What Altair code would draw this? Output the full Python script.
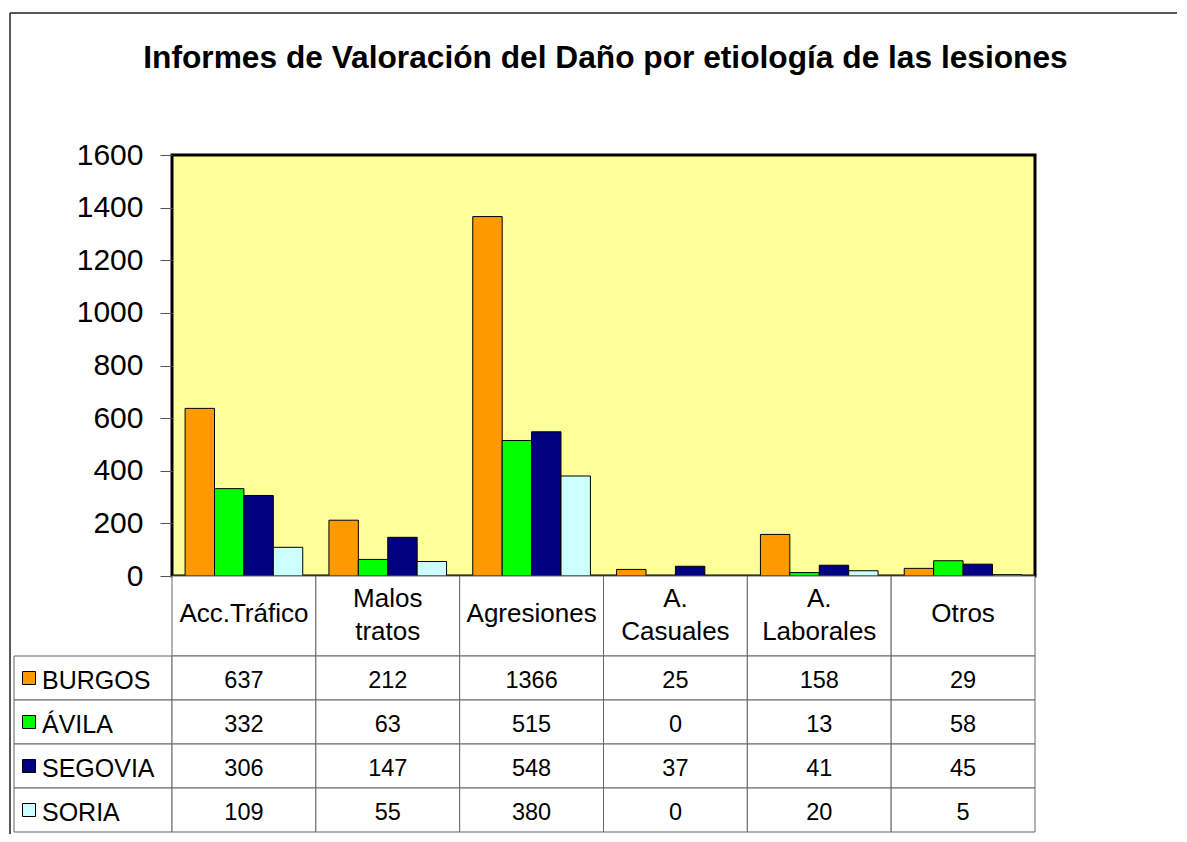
import altair as alt
import pandas as pd

# ---- data ----
categories = ["Acc.Tráfico", "Malos tratos", "Agresiones", "A. Casuales", "A. Laborales", "Otros"]
header_labels = ["Acc.Tráfico", "Malos\ntratos", "Agresiones", "A.\nCasuales", "A.\nLaborales", "Otros"]
series = ["BURGOS", "ÁVILA", "SEGOVIA", "SORIA"]
burgos = [637, 212, 1366, 25, 158, 29]
avila = [332, 63, 515, 0, 13, 58]
segovia = [306, 147, 548, 37, 41, 45]
soria = [109, 55, 380, 0, 20, 5]
colors = ["#FF9900", "#00FF00", "#000080", "#CCFFFF"]
y_ticks = [0, 200, 400, 600, 800, 1000, 1200, 1400, 1600]
title_text = "Informes de Valoración del Daño por etiología de las lesiones"

rows = []
for s, vals in zip(series, [burgos, avila, segovia, soria]):
    for c, v in zip(categories, vals):
        rows.append({"categoria": c, "provincia": s, "valor": v})
df = pd.DataFrame(rows)
head_df = pd.DataFrame({"categoria": categories, "etiqueta": header_labels})
leg_df = pd.DataFrame({"provincia": series})
frame_df = pd.DataFrame({"f": [0]})

# ---- layout sizes ----
PLOT_W, LEG_W = 863, 158
PLOT_H, HEAD_H, TAB_H = 421, 80, 176
FONT = "Liberation Sans"
LINE = "#666666"

color_scale = alt.Scale(domain=series, range=colors)
x_scale = alt.Scale(domain=categories, paddingInner=0, paddingOuter=0)
row_scale = alt.Scale(domain=series, paddingInner=0, paddingOuter=0)

# ---- bar chart ----
bars = alt.Chart(df).mark_bar(stroke="black", strokeWidth=1).encode(
    x=alt.X("categoria:N", scale=x_scale, axis=None),
    xOffset=alt.XOffset("provincia:N",
                        scale=alt.Scale(domain=series, paddingInner=0, paddingOuter=0.445)),
    y=alt.Y("valor:Q",
            scale=alt.Scale(domain=[0, 1600], nice=False),
            axis=alt.Axis(values=y_ticks, format="d", title=None, grid=False, domain=False,
                          tickSize=12, tickColor="#555555", tickWidth=1,
                          labelFontSize=30, labelPadding=17, labelColor="black",
                          labelFont=FONT)),
    color=alt.Color("provincia:N", scale=color_scale, legend=None),
).properties(
    width=PLOT_W, height=PLOT_H,
    view=alt.ViewBackground(fill="#FFFF99", stroke="black", strokeWidth=3),
    title=alt.TitleParams(text=title_text, fontSize=31.7, fontWeight="bold",
                          font=FONT, color="black", anchor="middle",
                          offset=65, dx=2),
)

# ---- spacer holding the outer chart frame ----
frame_top = alt.Chart(frame_df).mark_rule(color="#222222", strokeWidth=1.5).encode(
    x=alt.value(-4), x2=alt.value(1163), y=alt.value(-142))
frame_left = alt.Chart(frame_df).mark_rule(color="#222222", strokeWidth=1.5).encode(
    x=alt.value(-4), y=alt.value(-142), y2=alt.value(PLOT_H + HEAD_H + TAB_H + 2))
spacer_top = alt.layer(frame_top, frame_left).properties(
    width=LEG_W, height=PLOT_H)

spacer_mid = alt.Chart(frame_df).mark_point(opacity=0).properties(
    width=LEG_W, height=HEAD_H)

# ---- header row with category names ----
head_base = alt.Chart(head_df).encode(
    x=alt.X("categoria:N", scale=x_scale, axis=None))
multi = "indexof(datum.etiqueta, '\\n') >= 0"
head = alt.layer(
    head_base.mark_rect(fill="white", stroke=LINE, strokeWidth=1),
    head_base.mark_text(fontSize=26, font=FONT, color="black", dy=-2).encode(
        text="etiqueta:N").transform_filter("!(" + multi + ")"),
    head_base.mark_text(fontSize=26, lineBreak="\n", lineHeight=33, font=FONT,
                        color="black", dy=-17).encode(
        text="etiqueta:N").transform_filter(multi),
).properties(width=PLOT_W, height=HEAD_H)

# ---- data table ----
tab_base = alt.Chart(df).encode(
    x=alt.X("categoria:N", scale=x_scale, axis=None),
    y=alt.Y("provincia:N", scale=row_scale, axis=None),
)
table = alt.layer(
    tab_base.mark_rect(fill="white", stroke=LINE, strokeWidth=1),
    tab_base.mark_text(fontSize=23.5, font=FONT, color="black", dy=3).encode(
        text=alt.Text("valor:Q", format="d")),
).properties(width=PLOT_W, height=TAB_H)

# ---- legend column of the table ----
leg_base = alt.Chart(leg_df).encode(
    y=alt.Y("provincia:N", scale=row_scale, axis=None))
legend_col = alt.layer(
    leg_base.mark_rect(fill="white", stroke=LINE, strokeWidth=1),
    leg_base.mark_square(size=169, opacity=1, stroke="black", strokeWidth=1).encode(
        x=alt.value(15),
        color=alt.Color("provincia:N", scale=color_scale, legend=None)),
    leg_base.mark_text(align="left", fontSize=25, font=FONT, color="black", dy=3).encode(
        x=alt.value(28), text="provincia:N"),
).properties(width=LEG_W, height=TAB_H)

chart = alt.concat(
    spacer_top, bars, spacer_mid, head, legend_col, table,
    columns=2, spacing=0, bounds="flush",
).properties(
    padding={"top": 3, "left": 0, "right": 0, "bottom": 0},
    background="white",
).configure(font=FONT).configure_view(stroke="transparent")

chart.save("out.html", embed_options={"renderer": "svg", "actions": False})
